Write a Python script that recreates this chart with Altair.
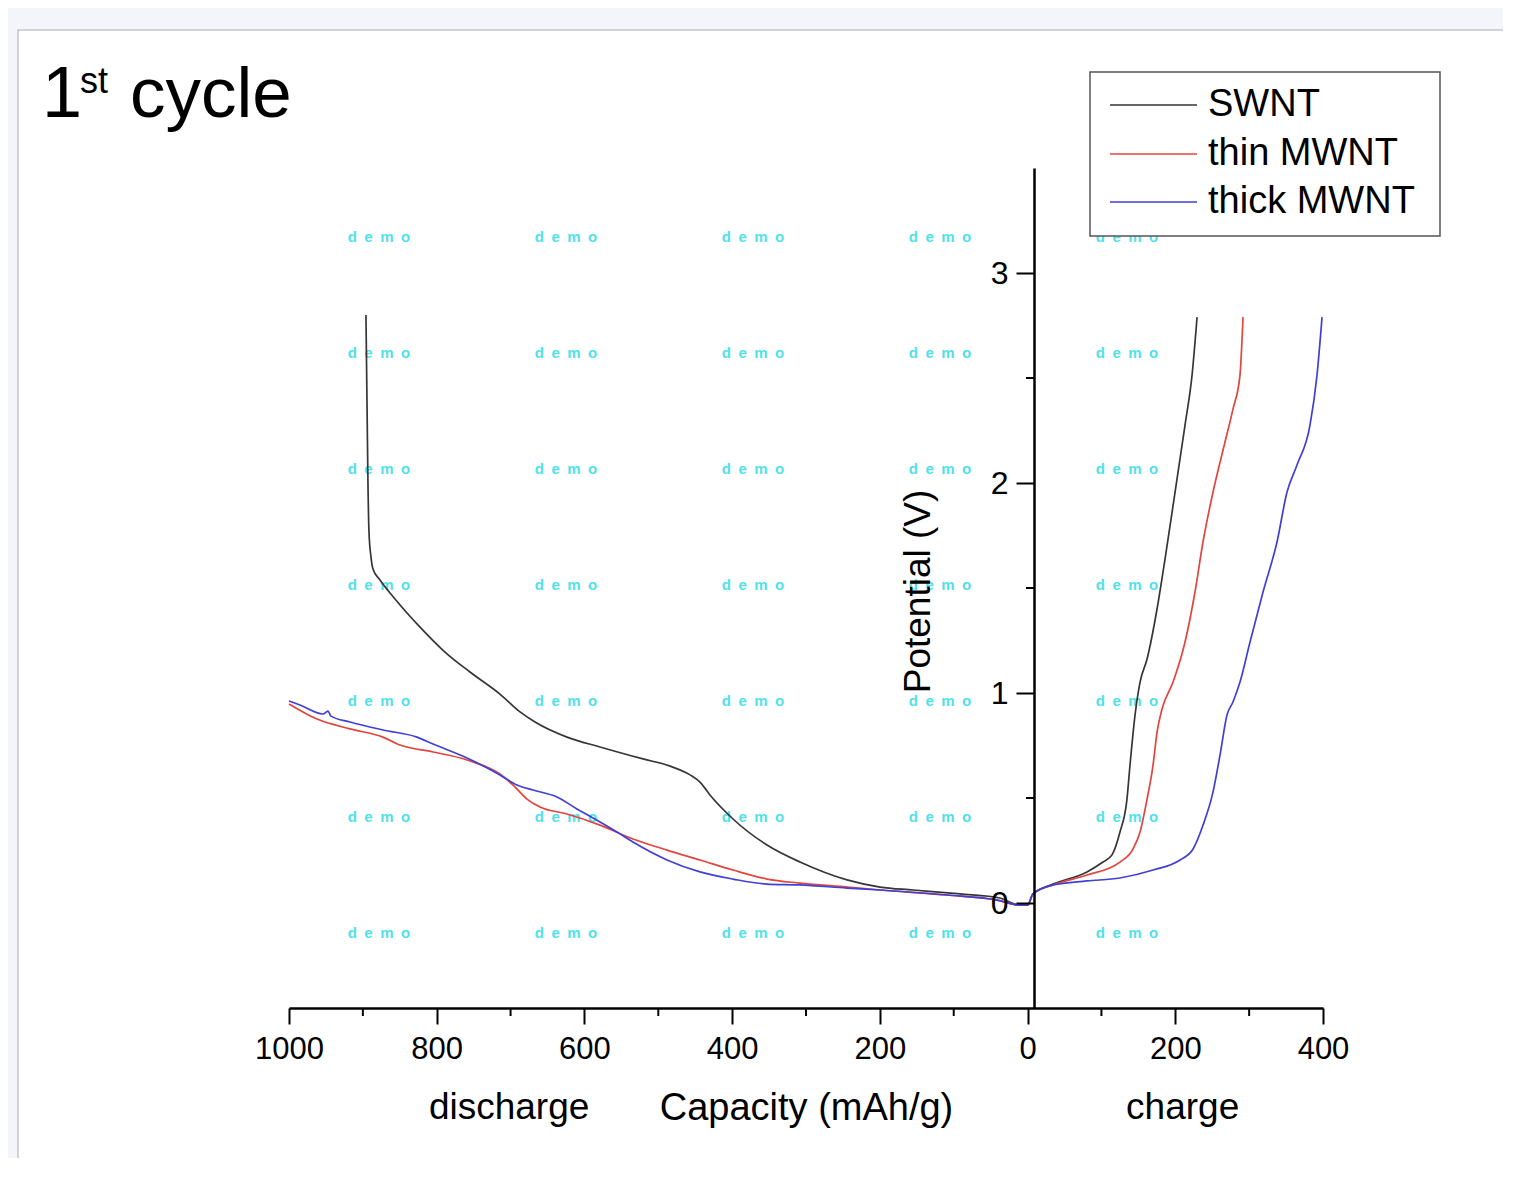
import altair as alt
import pandas as pd

SERIES = ["SWNT", "thin MWNT", "thick MWNT"]
COLORS = ["#363636", "#e2443e", "#4040d6"]

# ---- discharge branch (capacity as read on the axis, mAh/g ; potential V)
swnt_dis_cap = [895.8, 894.4, 893.1, 891.7, 889.0, 886.3, 876.8, 856.5, 822.6, 788.8,
                755.0, 714.4, 687.2, 666.9, 623.6, 578.9, 520.7, 484.1, 457.0, 443.5,
                430.0, 398.8, 352.8, 308.1, 244.5, 199.8, 155.1, 91.5, 37.4, 17.1, 0]
swnt_dis_v = [2.80, 2.386, 2.005, 1.767, 1.648, 1.590, 1.538, 1.448, 1.314, 1.195,
              1.100, 0.995, 0.910, 0.862, 0.790, 0.743, 0.686, 0.652, 0.610, 0.576,
              0.514, 0.400, 0.276, 0.195, 0.110, 0.076, 0.062, 0.043, 0.024, -0.005, -0.010]

thin_dis_cap = [1000, 962.1, 917.4, 872.8, 849.7, 805.0, 759.0, 714.4, 696.8, 677.8,
                660.2, 623.6, 578.9, 534.3, 488.2, 443.5, 398.8, 352.8, 308.1, 244.5,
                199.8, 109.1, 41.4, 10.3, 0]
thin_dis_v = [0.948, 0.876, 0.829, 0.790, 0.752, 0.719, 0.681, 0.614, 0.562, 0.495,
              0.457, 0.424, 0.371, 0.305, 0.252, 0.205, 0.157, 0.114, 0.095, 0.076,
              0.062, 0.038, 0.014, -0.010, -0.010]

thick_dis_cap = [1000, 985.1, 954.0, 947.2, 943.2, 917.4, 872.8, 826.7, 805.0, 759.0,
                 714.4, 691.4, 669.7, 637.2, 610.1, 578.9, 555.9, 534.3, 488.2, 443.5,
                 398.8, 352.8, 308.1, 244.5, 199.8, 109.1, 41.4, 10.3, 0]
thick_dis_v = [0.962, 0.943, 0.900, 0.914, 0.890, 0.862, 0.824, 0.790, 0.757, 0.690,
               0.610, 0.562, 0.538, 0.505, 0.448, 0.386, 0.338, 0.290, 0.205, 0.148,
               0.114, 0.090, 0.086, 0.071, 0.062, 0.038, 0.014, -0.010, -0.010]

# ---- charge branch
swnt_ch_cap = [0, 7.3, 34.4, 80.4, 102.1, 114.3, 125.1, 134.6, 138.7, 145.5,
               152.3, 161.8, 175.3, 186.1, 199.7, 213.2, 222.7, 229.5]
swnt_ch_v = [-0.010, 0.043, 0.090, 0.148, 0.195, 0.229, 0.338, 0.495, 0.657, 0.895,
             1.052, 1.162, 1.400, 1.638, 1.957, 2.276, 2.514, 2.790]

thin_ch_cap = [0, 7.3, 34.4, 80.4, 125.1, 142.7, 152.3, 161.8, 169.9, 175.3,
               182.1, 197.0, 213.2, 226.7, 237.5, 251.1, 267.3, 278.1, 287.6, 291.7]
thin_ch_v = [-0.010, 0.043, 0.086, 0.133, 0.195, 0.257, 0.338, 0.495, 0.657, 0.814,
             0.924, 1.052, 1.243, 1.481, 1.719, 1.957, 2.195, 2.352, 2.514, 2.790]

thick_ch_cap = [0, 7.3, 34.4, 80.4, 125.1, 169.9, 206.5, 224.1, 237.6, 251.1,
                260.6, 270.0, 278.1, 287.6, 301.2, 318.8, 337.7, 351.3, 364.8, 382.4,
                391.9, 398.7]
thick_ch_v = [-0.010, 0.043, 0.086, 0.105, 0.119, 0.157, 0.205, 0.257, 0.371, 0.529,
              0.705, 0.895, 0.957, 1.052, 1.243, 1.481, 1.719, 1.957, 2.086, 2.276,
              2.514, 2.790]

X_MAJOR = [-1000, -800, -600, -400, -200, 0, 200, 400]
X_MINOR = [-900, -700, -500, -300, -100, 100, 300]
Y_MAJOR = [0, 1, 2, 3]
Y_MINOR = [0.5, 1.5, 2.5]

# watermark grid (positions read in data units)
WM_X = [-878.2, -625.0, -371.8, -118.6, 134.6]
WM_Y = [3.171, 2.619, 2.067, 1.514, 0.962, 0.410, -0.143]

BRANCH_LABELS = ["discharge", "charge"]
BRANCH_X = [-702, 210]

FONT = "Liberation Sans, Arial, sans-serif"

rows = []
for name, dc, dv, cc, cv in [
    ("SWNT", swnt_dis_cap, swnt_dis_v, swnt_ch_cap, swnt_ch_v),
    ("thin MWNT", thin_dis_cap, thin_dis_v, thin_ch_cap, thin_ch_v),
    ("thick MWNT", thick_dis_cap, thick_dis_v, thick_ch_cap, thick_ch_v),
]:
    pts = [(-c, v) for c, v in zip(dc, dv)] + [(c, v) for c, v in zip(cc, cv)]
    last = None
    i = 0
    for c, v in pts:
        if last is not None and c <= last:
            continue
        rows.append({"series": name, "cap": c, "V": v, "order": i})
        last = c
        i += 1
df = pd.DataFrame(rows)

x_scale = alt.Scale(domain=[-1000, 400], nice=False, zero=False)
y_scale = alt.Scale(domain=[-0.5, 3.5], nice=False, zero=False)
color_scale = alt.Scale(domain=SERIES, range=COLORS)

x_axis = alt.Axis(
    values=X_MAJOR, labelExpr="format(abs(datum.value), 'd')",
    tickSize=16, tickWidth=2, tickColor="black", domainColor="black", domainWidth=2.5,
    labelFont=FONT, labelFontSize=31, labelColor="black", labelPadding=10,
    labelFlush=False, labelOverlap=False, grid=False,
    title="Capacity (mAh/g)", titleFont=FONT, titleFontSize=38, titleFontWeight="normal",
    titleColor="black", titleX=517, titleY=100, titleBaseline="middle", titleAlign="center",
    zindex=1,
)
y_axis = alt.Axis(
    values=Y_MAJOR, offset=-745, format="d",
    tickSize=18, tickWidth=2, tickColor="black", domainColor="black", domainWidth=2.5,
    labelFont=FONT, labelFontSize=32, labelColor="black", labelPadding=8, grid=False,
    title="Potential (V)", titleFont=FONT, titleFontSize=37, titleFontWeight="normal",
    titleColor="black", titleX=-116, titleY=423, titleAngle=270,
    titleAlign="center", titleBaseline="middle",
    zindex=1,
)

one = pd.DataFrame({"k": [0]})

card = alt.Chart(one).mark_rect(fill="white", stroke="#c4c4ca", strokeWidth=1.5).encode(
    x=alt.value(-271), x2=alt.value(1400), y=alt.value(-138), y2=alt.value(1200)
)

wm_df = pd.DataFrame([{"cap": x, "V": y} for x in WM_X for y in WM_Y])
watermark = alt.Chart(wm_df).mark_text(
    text="d\u2002e\u2002m\u2002o", color="#4fe2ea", fontSize=15, fontWeight="bold", font=FONT,
    align="center", baseline="middle",
).encode(x=alt.X("cap:Q", scale=x_scale, axis=x_axis), y=alt.Y("V:Q", scale=y_scale, axis=y_axis))

lines = alt.Chart(df).mark_line(strokeWidth=1.7, interpolate="monotone").encode(
    x=alt.X("cap:Q", scale=x_scale, axis=x_axis),
    y=alt.Y("V:Q", scale=y_scale, axis=y_axis),
    color=alt.Color("series:N", scale=color_scale, legend=None),
    order="order:Q",
)

x_minor = alt.Chart(pd.DataFrame({"cap": X_MINOR})).mark_rule(color="black", strokeWidth=2).encode(
    x=alt.X("cap:Q", scale=x_scale), y=alt.value(840), y2=alt.value(848)
)
y_minor = alt.Chart(pd.DataFrame({"V": Y_MINOR})).mark_rule(color="black", strokeWidth=2).encode(
    y=alt.Y("V:Q", scale=y_scale), x=alt.value(737), x2=alt.value(745)
)

branch = alt.Chart(pd.DataFrame({"cap": BRANCH_X, "label": BRANCH_LABELS})).mark_text(
    font=FONT, fontSize=37, color="black", align="center", baseline="middle"
).encode(x=alt.X("cap:Q", scale=x_scale), y=alt.value(940), text="label:N")

# ---- hand-placed legend box
legend_box = alt.Chart(one).mark_rect(fill="white", stroke="#555555", strokeWidth=1.5).encode(
    x=alt.value(801), x2=alt.value(1151), y=alt.value(-96), y2=alt.value(68)
)
ROW_Y = [-63, -14, 34]
legend_layers = []
for name, ry in zip(SERIES, ROW_Y):
    d = pd.DataFrame({"series": [name]})
    legend_layers.append(
        alt.Chart(d).mark_rule(strokeWidth=1.6).encode(
            x=alt.value(821), x2=alt.value(908), y=alt.value(ry),
            color=alt.Color("series:N", scale=color_scale, legend=None),
        )
    )
    legend_layers.append(
        alt.Chart(d).mark_text(font=FONT, fontSize=38, color="black", align="left",
                               baseline="middle").encode(
            x=alt.value(919), y=alt.value(ry), text="series:N")
    )

t1 = alt.Chart(one).mark_text(text="1", font=FONT, fontSize=72, color="black",
                              align="left", baseline="alphabetic").encode(
    x=alt.value(-247), y=alt.value(-51))
t2 = alt.Chart(one).mark_text(text="st", font=FONT, fontSize=36, color="black",
                              align="left", baseline="alphabetic").encode(
    x=alt.value(-209), y=alt.value(-75))
t3 = alt.Chart(one).mark_text(text="cycle", font=FONT, fontSize=71, color="black",
                              align="left", baseline="alphabetic").encode(
    x=alt.value(-159), y=alt.value(-51))

chart = alt.layer(card, watermark, lines, x_minor, y_minor, branch, legend_box,
                  *legend_layers, t1, t2, t3).properties(
    width=1034, height=840,
    padding={"left": 281, "top": 160, "right": 180, "bottom": 150},
    autosize=alt.AutoSizeParams(type="none"),
).configure(background="#f4f5fa").configure_view(stroke=None)

chart.save("out.html", embed_options={"renderer": "svg", "actions": False})
